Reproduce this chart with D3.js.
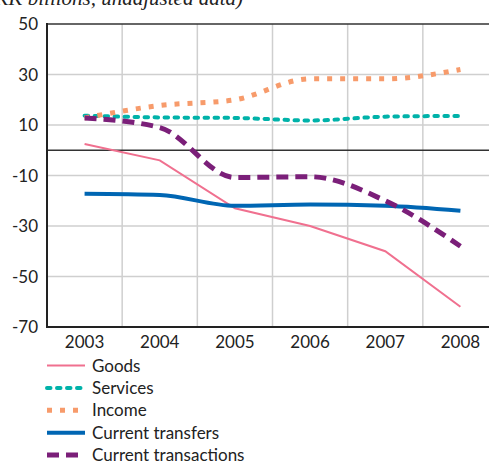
<!DOCTYPE html>
<html><head><meta charset="utf-8">
<script src="https://cdn.jsdelivr.net/npm/d3@7"></script>
<style>body{margin:0;background:#fff}svg{display:block}</style>
</head><body>
<svg id="c" width="489" height="464"></svg>
<script>
const years = ["2003","2004","2005","2006","2007","2008"];
const goods = [2.5, -4, -23, -30, -40, -62];
const services = [13.7, 13, 12.8, 11.8, 13.3, 13.6];
const income = [12.8, 17.7, 20, 28.3, 28.3, 32];
const transfers = [-17.2, -17.7, -22, -21.5, -22, -24];
const transactions = [12.8, 9, -10.8, -10.5, -20, -38];
const yTicks = [50, 30, 10, -10, -30, -50, -70];
const seriesNames = ["Goods","Services","Income","Current transfers","Current transactions"];
const title = "(SKK billions, unadjusted data)";

(function(){
const series = [
  {name: seriesNames[0], values: goods, color: "#F0708F", width: 2, dash: null, cap: "butt", curve: d3.curveLinear},
  {name: seriesNames[1], values: services, color: "#00B2A9", width: 4, dash: "3.5,6.5", cap: "round", curve: d3.curveMonotoneX},
  {name: seriesNames[2], values: income, color: "#F79B6B", width: 5, dash: "5,8", cap: "butt", curve: d3.curveMonotoneX},
  {name: seriesNames[3], values: transfers, color: "#0066B3", width: 4, dash: null, cap: "butt", curve: d3.curveMonotoneX},
  {name: seriesNames[4], values: transactions, color: "#7B1F79", width: 5, dash: "12,7", cap: "butt", curve: d3.curveMonotoneX}
];

const svg = d3.select("#c");
const pl = 47, pr = 498, pt = 24, pb = 327;
const x = d3.scaleBand().domain(years).range([pl, pr]);
const y = d3.scaleLinear().domain([-70, 50]).range([pb, pt]);
const font = "Lato, 'Open Sans', sans-serif";

svg.append("text").attr("x", 243).attr("y", 5).attr("text-anchor", "end")
  .attr("font-family", "'Liberation Serif', serif").attr("font-style", "italic")
  .attr("font-size", 21).attr("fill", "#222").text(title);

const g = svg.append("g");
g.selectAll("line.h").data(yTicks.filter(d => d !== 50 && d !== -70)).join("line")
  .attr("x1", pl).attr("x2", 489).attr("y1", d => y(d)).attr("y2", d => y(d))
  .attr("stroke", "#cfcfcf").attr("stroke-width", 1.5);
g.selectAll("line.v").data(years.slice(1)).join("line")
  .attr("x1", d => x(d)).attr("x2", d => x(d)).attr("y1", pt).attr("y2", pb)
  .attr("stroke", "#cfcfcf").attr("stroke-width", 1.5);
g.append("line").attr("x1", pl).attr("x2", 489).attr("y1", y(50)).attr("y2", y(50))
  .attr("stroke", "#333").attr("stroke-width", 1.5);
g.append("line").attr("x1", pl).attr("x2", 489).attr("y1", y(0)).attr("y2", y(0))
  .attr("stroke", "#333").attr("stroke-width", 1.5);

series.forEach(s => {
  const line = d3.line().x((d, i) => x(years[i]) + x.bandwidth() / 2).y(d => y(d)).curve(s.curve);
  svg.append("path").attr("d", line(s.values)).attr("fill", "none")
    .attr("stroke", s.color).attr("stroke-width", s.width)
    .attr("stroke-dasharray", s.dash).attr("stroke-linecap", s.cap);
});

svg.append("line").attr("x1", pl).attr("x2", 489).attr("y1", pb).attr("y2", pb)
  .attr("stroke", "#222").attr("stroke-width", 2);
svg.append("line").attr("x1", pl).attr("x2", pl).attr("y1", pt - 1).attr("y2", pb + 1)
  .attr("stroke", "#222").attr("stroke-width", 2);

svg.selectAll("text.yt").data(yTicks).join("text")
  .attr("x", 38).attr("y", d => y(d) + 6).attr("text-anchor", "end")
  .attr("font-family", font).attr("font-size", 17).attr("fill", "#222").text(d => d);
svg.selectAll("text.xt").data(years).join("text")
  .attr("x", d => x(d) + x.bandwidth() / 2).attr("y", 348).attr("text-anchor", "middle")
  .attr("font-family", font).attr("font-size", 17).attr("fill", "#222").text(d => d);

const lg = svg.append("g");
series.forEach((s, i) => {
  const yy = 365.5 + i * 22.4;
  lg.append("line").attr("x1", 47).attr("x2", 85).attr("y1", yy).attr("y2", yy)
    .attr("stroke", s.color).attr("stroke-width", s.width)
    .attr("stroke-dasharray", s.dash).attr("stroke-linecap", s.cap);
  lg.append("text").attr("x", 92).attr("y", yy + 6).attr("font-family", font)
    .attr("font-size", 17).attr("fill", "#222").text(s.name);
});
})();
</script>
</body></html>
